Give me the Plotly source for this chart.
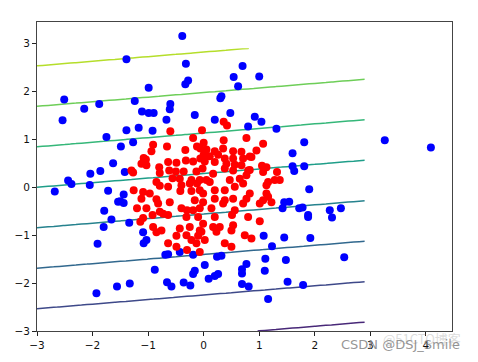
import numpy as np
import plotly.graph_objects as go

# ---- data ----
blue_x = [-1.39, -0.99, -2.51, -2.54, -2.15, -1.88, -1.24, -1.11, -0.99, -0.90,
          -0.67, -1.39, -1.17, -0.92, -1.75, -1.49, -1.27, -1.63, -2.04, -1.86,
          -1.42, -2.44, -0.385, -0.32, -0.28, -0.33, 0.70, 0.54, 0.62, 1.00,
          0.32, 0.30, -0.60, -0.61, -0.16, 0.20, 0.48, 0.92, 1.04, 0.80,
          1.31, 1.81, 1.60, 1.60, 1.81, 1.63, 3.26, 4.09, 1.90, 1.45,
          1.54, 1.42, 1.72, 1.78, 1.88, 1.88, 2.27, 2.31, 2.47, 1.45,
          1.92, 1.48, 2.53, 1.51, 1.79, 1.08, 1.23, 1.11, 0.77, 0.69,
          0.69, 1.10, 0.69, 0.81, 1.16, -0.64, -0.69, -0.43, -0.19, 0.24,
          0.32, 0.02, -0.16, -0.19, 0.26, 0.20, 0.09, -0.66, -0.58, -0.36,
          -0.24, -2.68, -2.38, -2.05, -1.72, -1.44, -1.50, -1.44, -1.54, -1.79,
          -1.66, -1.80, -1.34, -1.91, -1.09, -1.03, -1.08, -0.88, -1.56, -1.33,
          -1.93]
blue_y = [2.67, 2.08, 1.83, 1.40, 1.64, 1.74, 1.80, 1.58, 1.55, 1.55,
          1.41, 1.19, 1.24, 1.18, 1.05, 0.85, 0.94, 0.50, 0.28, 0.34,
          0.32, 0.14, 3.16, 2.58, 2.23, 2.15, 2.53, 2.30, 2.11, 2.31,
          1.90, 1.86, 1.74, 1.63, 1.51, 1.41, 1.55, 1.47, 1.37, 1.27,
          1.22, 0.94, 0.71, 0.44, 0.44, 0.34, 0.98, 0.83, -0.04, -0.31,
          -0.30, -0.44, -0.44, -0.42, -0.58, -0.62, -0.48, -0.63, -0.44, -1.05,
          -1.06, -1.52, -1.46, -1.97, -2.04, -1.01, -1.23, -1.49, -1.60, -1.71,
          -1.80, -1.74, -2.02, -2.07, -2.33, -1.40, -1.41, -1.35, -1.41, -1.45,
          -1.43, -1.62, -1.74, -1.81, -1.81, -1.85, -1.91, -1.98, -2.07, -1.99,
          -2.05, -0.09, 0.07, 0.05, -0.07, -0.15, -0.29, -0.33, -0.30, -0.49,
          -0.67, -0.83, -0.74, -1.18, -0.94, -1.10, -1.17, -1.72, -2.07, -2.01,
          -2.21]

red_x = [-0.60, -0.19, -0.91, -0.66, -0.12, -0.06, -0.94, -1.08, -1.04, -1.12,
         -1.03, -0.80, -0.64, -0.49, -0.32, -0.19, -0.06, -1.30, -1.27, -0.79,
         -0.62, -0.50, -0.36, -0.13, -0.02, -0.56, -0.43, -0.22, -0.07, -0.85,
         -0.79, -0.64, -0.40, -0.25, -0.12, -1.26, -1.09, -0.97, -0.42, -0.22,
         -0.07, -1.12, -0.85, -0.61, -0.16, -1.20, -1.03, -0.82, -0.79, -0.40,
         -0.30, -0.19, -0.07, -1.09, -0.92, -0.73, -0.64, -0.31, -0.10, -1.14,
         -0.91, -0.76, -0.43, -0.25, -0.07, -0.85, -0.49, -0.31, -0.10, -0.64,
         -0.49, -0.22, -0.13, -0.30, -0.07, -0.33,
         0.36, 0.42, -0.03, 0.77, 1.07, 0.36, 0.00, 0.05, 0.20, 0.35,
         0.53, 0.68, 0.95, 0.00, 0.11, 0.26, 0.38, 0.53, 0.71, 0.86,
         0.02, 0.20, 0.41, 0.56, 0.68, 1.13, 0.38, 0.53, 0.80, 1.07,
         1.32, 0.17, 0.05, 0.11, 0.47, 0.65, 0.77, 1.16, 1.28, 1.37,
         0.71, 1.13, -0.01, 0.20, 0.38, 0.56, 0.83, 1.13, 0.20, 0.38,
         0.53, 0.77, 1.07, 1.16, -0.01, 0.35, 0.71, 1.01, 1.22, 0.14,
         0.56, 0.20, 0.51, 0.80, -0.01, 0.17, 0.29, 0.53, 1.01, -0.04,
         0.23, 0.50, 0.74, 0.02, 0.86, 0.38, 0.50, 0.83, 1.05, 0.83]
red_y = [1.17, 1.03, 0.89, 0.85, 0.85, 0.81, 0.75, 0.61, 0.58, 0.49,
         0.46, 0.42, 0.53, 0.51, 0.56, 0.54, 0.60, 0.35, 0.31, 0.30,
         0.35, 0.33, 0.33, 0.33, 0.39, 0.19, 0.18, 0.15, 0.15, 0.11,
         0.03, 0.01, 0.04, 0.08, 0.08, -0.06, -0.10, -0.13, -0.08, -0.08,
         -0.06, -0.24, -0.25, -0.31, -0.27, -0.44, -0.44, -0.34, -0.51, -0.44,
         -0.48, -0.48, -0.44, -0.64, -0.58, -0.55, -0.58, -0.62, -0.62, -0.72,
         -0.83, -0.90, -0.86, -0.83, -0.90, -0.94, -1.01, -1.00, -1.01, -1.17,
         -1.24, -1.10, -1.17, -1.31, -1.35, 0.78,
         1.37, 1.29, 1.19, 1.03, 0.91, 0.98, 0.93, 0.79, 0.75, 0.81,
         0.75, 0.74, 0.77, 0.68, 0.65, 0.68, 0.60, 0.60, 0.60, 0.63,
         0.54, 0.53, 0.49, 0.47, 0.46, 0.42, 0.39, 0.35, 0.35, 0.32,
         0.32, 0.28, 0.15, 0.11, 0.15, 0.18, 0.25, 0.11, 0.15, 0.15,
         0.08, 0.04, -0.13, -0.06, -0.06, 0.01, -0.13, -0.13, -0.24, -0.27,
         -0.24, -0.24, -0.27, -0.20, -0.31, -0.34, -0.34, -0.34, -0.31, -0.44,
         -0.48, -0.62, -0.58, -0.62, -0.76, -0.83, -0.83, -0.79, -0.71, -0.93,
         -0.93, -0.90, -1.00, -1.10, -1.07, -1.17, -1.24, 0.64, 0.45, 0.36]

# decision boundary contour: lines of constant (y - slope*(x+3))
line_slope = 0.0957
level_intercepts = [-3.38, -2.535, -1.69, -0.845, 0.0, 0.845, 1.69, 2.535]
level_colors = ["#482878", "#3e4989", "#31688e", "#26828e",
                "#1f9e89", "#35b779", "#6ece58", "#b5de2b"]
grid_min, grid_max, grid_step = -3.0, 2.9, 0.1

x_ticks = [-3, -2, -1, 0, 1, 2, 3, 4]
y_ticks = [-3, -2, -1, 0, 1, 2, 3]

# ---- figure ----
gx = np.round(np.arange(grid_min, grid_max + grid_step / 2, grid_step), 3)
gy = gx.copy()
GX, GY = np.meshgrid(gx, gy)
Z = GY - line_slope * (GX + 3)

n = len(level_colors)
cscale = [[i / (n - 1), c] for i, c in enumerate(level_colors)]

fig = go.Figure()
fig.add_trace(go.Contour(
    x=gx, y=gy, z=Z,
    colorscale=cscale, zmin=level_intercepts[0], zmax=level_intercepts[-1],
    autocontour=False,
    contours=dict(start=level_intercepts[0], end=level_intercepts[-1] + 0.01,
                  size=level_intercepts[1] - level_intercepts[0],
                  coloring="lines", showlabels=False),
    line=dict(width=1.5, smoothing=0),
    showscale=False, hoverinfo="skip",
))
fig.add_trace(go.Scatter(x=blue_x, y=blue_y, mode="markers",
                         marker=dict(color="blue", size=8, line=dict(width=0)),
                         showlegend=False))
fig.add_trace(go.Scatter(x=red_x, y=red_y, mode="markers",
                         marker=dict(color="red", size=8, line=dict(width=0)),
                         showlegend=False))

axis_common = dict(showgrid=False, zeroline=False, showline=True, mirror=True,
                   linecolor="#444", linewidth=1, ticks="outside", ticklen=4,
                   tickcolor="#222", tickwidth=1, automargin=False,
                   tickfont=dict(family="DejaVu Sans", size=10.5, color="#111"))

# the page body adds an 8px offset at top-left, so the figure is sized 8px smaller
fig.update_layout(
    width=470, height=354,
    margin=dict(l=29, r=26, t=14, b=31, autoexpand=False),
    paper_bgcolor="white", plot_bgcolor="white",
    showlegend=False,
    xaxis=dict(range=[-3, 4.47], tickvals=x_ticks, **axis_common),
    yaxis=dict(range=[-3, 3.45], tickvals=y_ticks, **axis_common),
    annotations=[
        dict(text="@51CTO博客", xref="paper", yref="paper", x=0.928, y=-0.025,
             showarrow=False, xanchor="center", yanchor="middle",
             font=dict(family="Noto Sans CJK SC", size=13, color="rgba(190,190,190,0.55)")),
        dict(text="CSDN @DSJ_Smile", xref="paper", yref="paper", x=0.877, y=-0.045,
             showarrow=False, xanchor="center", yanchor="middle",
             font=dict(family="DejaVu Sans", size=13, color="rgba(130,130,130,0.85)")),
    ],
)

fig.write_html("out.html")
